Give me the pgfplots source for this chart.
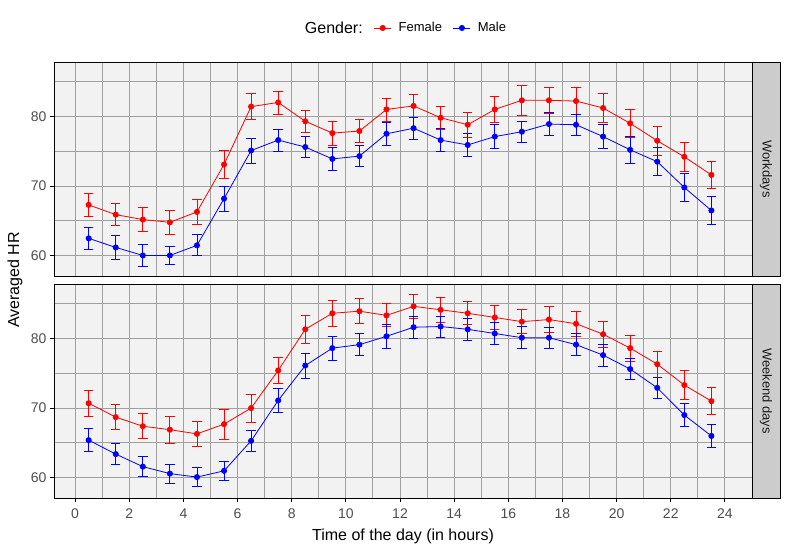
\documentclass[border=0pt]{standalone}
\usepackage{pgfplots}
\usepackage{pgfplotstable}
\pgfplotsset{compat=1.18}
\usepackage{fontspec}
\setmainfont{Liberation Sans}

\definecolor{panelbg}{RGB}{242,242,242}
\definecolor{gridc}{RGB}{160,160,160}
\definecolor{stripbg}{RGB}{204,204,204}
\definecolor{ticklab}{RGB}{77,77,77}
\definecolor{striptext}{RGB}{26,26,26}

% workdays, female
\pgfplotstableread{
x y e
0.5 67.3 1.65
1.5 65.9 1.6
2.5 65.2 1.7
3.5 64.8 1.7
4.5 66.3 1.8
5.5 73.1 1.95
6.5 81.4 1.9
7.5 82.0 1.65
8.5 79.3 1.55
9.5 77.6 1.7
10.5 77.9 1.7
11.5 81.0 1.65
12.5 81.5 1.7
13.5 79.8 1.7
14.5 78.8 1.75
15.5 81.0 1.8
16.5 82.3 2.15
17.5 82.3 1.85
18.5 82.2 1.9
19.5 81.2 2.05
20.5 79.0 2.0
21.5 76.5 2.1
22.5 74.2 2.1
23.5 71.6 2.0
}\wdfemale

% workdays, male
\pgfplotstableread{
x y e
0.5 62.5 1.6
1.5 61.2 1.7
2.5 60.05 1.55
3.5 60.05 1.35
4.5 61.5 1.5
5.5 68.2 1.8
6.5 75.1 1.8
7.5 76.6 1.6
8.5 75.6 1.5
9.5 73.9 1.6
10.5 74.3 1.5
11.5 77.5 1.6
12.5 78.3 1.55
13.5 76.6 1.65
14.5 75.9 1.65
15.5 77.1 1.75
16.5 77.8 1.55
17.5 78.9 1.7
18.5 78.8 1.55
19.5 77.1 1.75
20.5 75.2 1.95
21.5 73.5 2.0
22.5 69.8 2.0
23.5 66.5 2.0
}\wdmale

% weekend days, female
\pgfplotstableread{
x y e
0.5 70.7 1.85
1.5 68.7 1.8
2.5 67.4 1.8
3.5 66.9 1.9
4.5 66.3 1.85
5.5 67.7 2.15
6.5 70.0 2.0
7.5 75.4 1.9
8.5 81.3 2.05
9.5 83.6 1.85
10.5 83.9 1.8
11.5 83.3 1.65
12.5 84.6 1.7
13.5 84.1 1.75
14.5 83.6 1.65
15.5 83.0 1.7
16.5 82.4 1.7
17.5 82.7 1.85
18.5 82.1 1.8
19.5 80.6 1.85
20.5 78.6 1.85
21.5 76.3 1.85
22.5 73.3 2.1
23.5 71.0 1.95
}\wefemale

% weekend days, male
\pgfplotstableread{
x y e
0.5 65.4 1.65
1.5 63.4 1.55
2.5 61.6 1.45
3.5 60.6 1.35
4.5 60.1 1.35
5.5 61.0 1.35
6.5 65.3 1.5
7.5 71.1 1.75
8.5 76.1 1.8
9.5 78.6 1.7
10.5 79.1 1.55
11.5 80.3 1.7
12.5 81.6 1.55
13.5 81.7 1.5
14.5 81.3 1.6
15.5 80.7 1.6
16.5 80.1 1.55
17.5 80.1 1.5
18.5 79.1 1.55
19.5 77.6 1.55
20.5 75.6 1.5
21.5 72.9 1.55
22.5 69.0 1.65
23.5 66.0 1.65
}\wemale

\pgfplotsset{
  panel/.style={
    scale only axis,
    width=698pt, height=214pt,
    xmin=-0.78, xmax=25.0,
    ymin=57.1, ymax=87.8,
    xtick={0,2,...,24},
    minor xtick={1,3,...,23},
    ytick={60,70,80},
    minor ytick={65,75,85},
    grid=both,
    major grid style={gridc, line width=0.9pt},
    minor grid style={gridc, line width=0.9pt},
    axis line style={black, line width=0.9pt},
    axis background/.style={fill=panelbg},
    tick pos=left,
    tick align=outside,
    major tick length=4pt,
    minor tick length=0pt,
    tick style={black, line width=0.9pt},
    ticklabel style={font=\fontsize{14}{16}\selectfont, text=ticklab},
    xticklabel style={yshift=-3pt},
    /pgf/number format/assume math mode=true,
  },
  series/.style={#1, line width=0.8pt, mark=*, mark size=2.6pt,
    error bars/.cd, y dir=both, y explicit,
    error bar style={line width=0.8pt, #1},
    error mark options={rotate=90, mark size=4.7pt, line width=0.8pt, #1}},
}

\begin{document}
\begin{tikzpicture}
\path[use as bounding box] (0,0) rectangle (788pt,-550pt);

\begin{axis}[panel, name=top,
  at={(54pt,-276pt)}, anchor=south west,
  xticklabels={}, x tick style={draw=none},
  legend columns=3,
  legend style={draw=none, fill=none, at={(0.5,1.159)}, anchor=center,
    font=\fontsize{13}{15}\selectfont,
    /tikz/every odd column/.append style={column sep=5pt},
    /tikz/every even column/.append style={column sep=9pt}},
]
\addlegendimage{empty legend}
\addlegendentry{\fontsize{16}{18}\selectfont Gender:}
\addplot[series=red] table[x=x, y=y, y error=e] {\wdfemale};
\addlegendentry{Female}
\addplot[series=blue] table[x=x, y=y, y error=e] {\wdmale};
\addlegendentry{Male}
\end{axis}

\begin{axis}[panel, name=bot,
  at={(54pt,-498pt)}, anchor=south west,
  xlabel={Time of the day (in hours)},
  xlabel style={font=\fontsize{16}{18}\selectfont, yshift=-4pt},
]
\addplot[series=red] table[x=x, y=y, y error=e] {\wefemale};
\addplot[series=blue] table[x=x, y=y, y error=e] {\wemale};
\end{axis}

\draw[fill=stripbg, line width=0.9pt] (top.south east) rectangle ([xshift=28pt]top.north east);
\node[rotate=-90, font=\fontsize{13}{15}\selectfont, text=striptext]
  at ([xshift=14pt]top.east) {Workdays};
\draw[fill=stripbg, line width=0.9pt] (bot.south east) rectangle ([xshift=28pt]bot.north east);
\node[rotate=-90, font=\fontsize{13}{15}\selectfont, text=striptext]
  at ([xshift=14pt]bot.east) {Weekend days};

\node[rotate=90, font=\fontsize{16}{18}\selectfont] at (15pt,-280pt) {Averaged HR};
\end{tikzpicture}
\end{document}
